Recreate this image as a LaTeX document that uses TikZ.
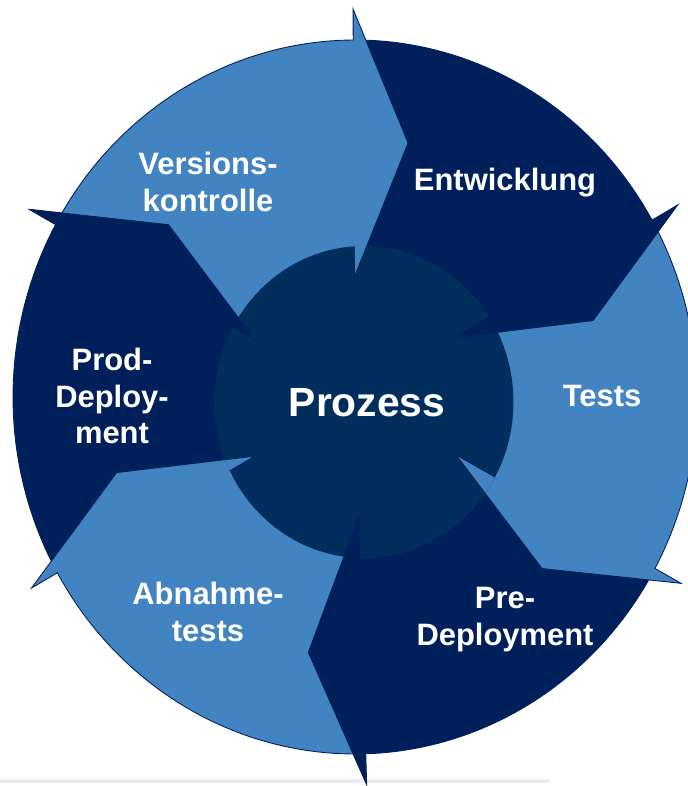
\documentclass[tikz,border=0pt]{standalone}
\usepackage{fontspec}
\setmainfont{Liberation Sans}
\usepackage{tikz}
\definecolor{cring}{RGB}{66,131,193}
\definecolor{cdark}{RGB}{0,32,91}
\definecolor{ccore}{RGB}{2,46,94}

\begin{document}
\begin{tikzpicture}[x=0.02cm,y=0.02cm,
  part/.style={draw=cdark,line width=0.5pt,line join=miter},
  label node/.style={text=white,align=center,font=\fontsize{17.6}{21}\selectfont\bfseries}]
  \useasboundingbox (-355,-389) rectangle (332,397);
  \draw[gray!15,line width=2.3pt] (-355,-384) -- (195,-384);

  \begin{scope}[xscale=0.958]
    % six arrow parts, drawn against the sense of the cycle
    \foreach \b/\f/\c in {-150.5/-208.9/cdark,-88.2/-150.5/cring,-28.7/-88.2/cdark,
                          29.7/-28.7/cring,90.3/29.7/cdark,151.1/90.3/cring}{
      \filldraw[part,fill=\c] (\b:357) arc[start angle=\b,end angle=\f,radius=357]
        -- (\f:388) -- (\f-12.6:260) -- (\f:120) -- (\f:140)
        arc[start angle=\f,end angle=\b,radius=140] -- cycle;
    }
    \filldraw[part,fill=cdark] (151.1:388) -- (138.5:260) -- (151.1:120) -- cycle;

    \fill[ccore] (9.4,-5) circle[radius=156];
    % inner points of the arrows over the core
    \begin{scope}
      \clip (9.4,-5) circle[radius=156];
      \foreach \f/\c in {-208.9/cdark,-150.5/cring,-88.2/cdark,-28.7/cring,29.7/cdark,90.3/cring}
        \filldraw[part,fill=\c] (\f:388) -- (\f-12.6:260) -- (\f:120) -- cycle;
    \end{scope}
  \end{scope}

  \node[label node,font=\fontsize{23.2}{27}\selectfont\bfseries] (prozess) at (12,-6) {Prozess};
  \node[label node] (vk) at (-147,215) {Versions-\\kontrolle};
  \node[label node] (ent) at (150,214) {Entwicklung};
  \node[label node] (tests) at (247,1) {Tests};
  \node[label node] (pre) at (150,-223) {Pre-\\Deployment};
  \node[label node] (abn) at (-147,-215) {Abnahme-\\tests};
  \node[label node] (prod) at (-243,1) {Prod-\\Deploy-\\ment};
\end{tikzpicture}
\end{document}
